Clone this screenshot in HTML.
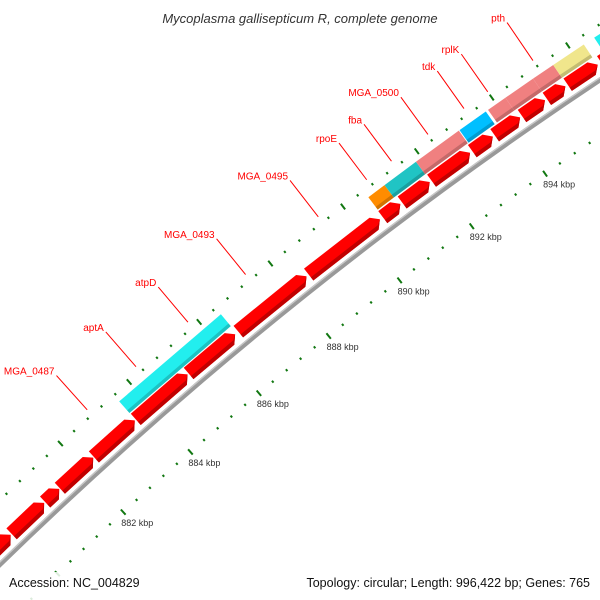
<!DOCTYPE html>
<html><head><meta charset="utf-8"><style>
html,body{margin:0;padding:0;background:#fff;width:600px;height:600px;overflow:hidden}
svg{display:block;overflow:hidden;font-family:"Liberation Sans","DejaVu Sans",sans-serif}
</style></head><body>
<svg id="map" width="600" height="600" viewBox="0 0 600 600" xmlns="http://www.w3.org/2000/svg">
<rect width="600" height="600" fill="#fff"/>
<g id="marks"></g>
<rect x="0" y="572" width="600" height="28" fill="#fff" fill-opacity="0.85"/>
<text x="300" y="23" text-anchor="middle" font-size="13" font-style="italic" fill="#333">Mycoplasma gallisepticum R, complete genome</text>
<text x="9" y="587" font-size="12.5" fill="#111">Accession: NC_004829</text>
<text x="590" y="587" text-anchor="end" font-size="12.5" fill="#111">Topology: circular; Length: 996,422 bp; Genes: 765</text>
</svg>
<script>
// forward-strand CDS (kbp)
const geneStarts = [878.5, 879.88, 880.89, 881.33, 882.34, 883.57, 885.10, 886.52, 888.50, 890.55, 891.08, 891.88, 892.98, 893.58, 894.31, 894.97, 895.52, 896.40];
const geneEnds   = [879.85, 880.86, 881.31, 882.32, 883.54, 885.07, 886.43, 888.44, 890.47, 891.03, 891.83, 892.92, 893.53, 894.26, 894.92, 895.46, 896.31, 898.5];
// outer coloured features (kbp)
const featStarts = [883.56, 890.56, 891.00, 891.85, 893.02, 893.78, 894.24, 894.97, 895.50, 896.57];
const featEnds   = [886.47, 891.00, 891.85, 893.00, 893.72, 894.24, 894.97, 895.50, 896.30, 898.5];
const featColors = ["#22eeee", "#ff8c00", "#20c4c4", "#f08080", "#00bfff", "#f08080", "#f08080", "#f08080", "#f0e68c", "#22eeee"];
// gene labels
const labelNames = ["MGA_0487", "aptA", "atpD", "MGA_0493", "MGA_0495", "rpoE", "fba", "MGA_0500", "tdk", "rplK", "pth"];
const labelPos   = [882.92, 884.33, 885.81, 887.43, 889.44, 890.76, 891.43, 892.41, 893.37, 894.00, 895.19];
// ticks
const majorTicks = [882, 884, 886, 888, 890, 892, 894, 896, 898];
const tickLabels = ["882 kbp", "884 kbp", "886 kbp", "888 kbp", "890 kbp", "892 kbp", "894 kbp", "896 kbp", "898 kbp"];
const minorStep = 0.4;

const CX = 2926, CY = 3574;
function ang(k){ return (47.53 + (k - 882) * 0.6225) * Math.PI / 180; }
function P(k, r){ const a = ang(k); return [CX - r * Math.cos(a), CY - r * Math.sin(a)]; }
function pts(arr){ return arr.map(p => p[0].toFixed(2) + "," + p[1].toFixed(2)).join(" "); }
const NS = "http://www.w3.org/2000/svg";
const g = document.getElementById("marks");
function mk(tag, attrs){ const e = document.createElementNS(NS, tag); for (const k in attrs) e.setAttribute(k, attrs[k]); g.appendChild(e); return e; }
function arcPath(k0, k1, r){ const a = P(k0, r), b = P(k1, r); return "M" + a[0] + "," + a[1] + " A" + r + "," + r + " 0 0 1 " + b[0] + "," + b[1]; }

let bb = mk("path", {d: arcPath(877, 899, 4197.5), stroke: "#999", "stroke-width": 5, fill: "none"});


let bb2 = mk("path", {d: arcPath(877, 899, 4199.3), stroke: "#c8c8c8", "stroke-width": 1.4, fill: "none"});



for (let k = 876; k <= 900.001; k += minorStep) {
  const kk = Math.round(k * 10) / 10;
  const major = Math.abs(kk / 2 - Math.round(kk / 2)) < 1e-6;
  const len = major ? 3.5 : 1.2;
  [4151, 4244].forEach((r, i) => {
    const a = P(kk, r - len), b = P(kk, r + len);
    const t = mk("line", {x1: a[0], y1: a[1], x2: b[0], y2: b[1], stroke: "#117711", "stroke-width": 2});
    
    
  });
}
majorTicks.forEach((k, i) => {
  const p = P(k, 4151);
  const t = mk("text", {x: p[0] - 2, y: p[1] + 14, "font-size": 9, fill: "#333"});
  t.textContent = tickLabels[i];
  
  
});

geneStarts.forEach((s, i) => {
  const e = geneEnds[i], h = Math.min(0.16, (e - s) * 0.5);
  const r0 = 4204, r1 = 4219, rm = 4211.5;
  const poly = mk("polygon", {points: pts([P(s, r1), P(e - h, r1), P(e, rm), P(e - h, r0), P(s, r0)]), fill: "#ff0000"});
  
  
  const sh = mk("polygon", {points: pts([P(s, r0 + 4), P(e - h * 0.72, r0 + 4), P(e, rm), P(e - h, r0), P(s, r0)]), fill: "#c00000"});
  
  
});

featStarts.forEach((s, i) => {
  const e = featEnds[i], r0 = 4220.5, r1 = 4236;
  const b = mk("polygon", {points: pts([P(s, r1), P(e, r1), P(e, r0), P(s, r0)]), fill: featColors[i]});
  
  
  const sh = mk("polygon", {points: pts([P(s, r0 + 3.5), P(e, r0 + 3.5), P(e, r0), P(s, r0)]), fill: "#000", "fill-opacity": 0.18});
  
  
});

labelPos.forEach((k, i) => {
  const a = P(k, 4251), b = P(k, 4297);
  const l = mk("line", {x1: a[0], y1: a[1], x2: b[0], y2: b[1], stroke: "#ff0000", "stroke-width": 1});
  
  
  const t = mk("text", {x: b[0] - 2, y: b[1] - 1, "text-anchor": "end", "font-size": 10, fill: "#ff0000"});
  t.textContent = labelNames[i];
  
  
});
</script>
</body></html>
